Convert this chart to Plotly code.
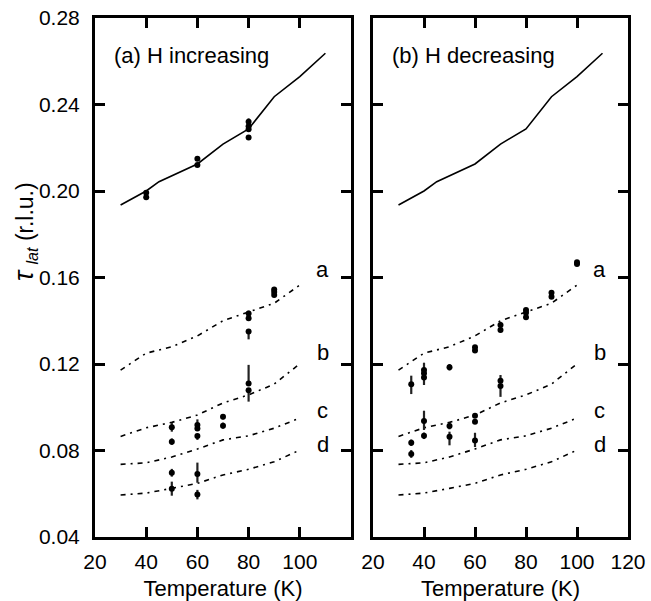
import plotly.graph_objects as go

# ---------------- data ----------------
# model curves (shared by both panels)
line_T = [30, 40, 45, 60, 70, 80, 90, 100, 110]
line_solid = [0.1935, 0.2000, 0.2043, 0.2125, 0.2217, 0.2287, 0.2436, 0.2529, 0.2637]

curve_T = [30, 40, 50, 60, 70, 80, 90, 100]
curve_a = [0.1172, 0.1250, 0.1280, 0.1330, 0.1400, 0.1442, 0.1481, 0.1565]
curve_b = [0.0865, 0.0905, 0.0930, 0.0964, 0.1020, 0.1057, 0.1107, 0.1201]
curve_c = [0.0736, 0.0743, 0.0770, 0.0807, 0.0849, 0.0868, 0.0903, 0.0950]
curve_d = [0.0594, 0.0603, 0.0625, 0.0648, 0.0687, 0.0713, 0.0748, 0.0802]
curve_labels = ["a", "b", "c", "d"]
label_y = [0.1635, 0.1251, 0.0987, 0.0826]

# panel (a) H increasing: measured points
a_T = [40, 40, 60, 60, 80, 80, 80, 80,
       80, 80, 80, 90, 90, 90,
       80, 80, 70, 70, 60, 60, 60, 50, 50,
       50, 50, 60, 60]
a_tau = [0.1992, 0.1971, 0.2149, 0.2120, 0.2320, 0.2300, 0.2285, 0.2247,
         0.1434, 0.1411, 0.1350, 0.1545, 0.1533, 0.1519,
         0.1110, 0.1079, 0.0956, 0.0915, 0.0918, 0.0902, 0.0867, 0.0907, 0.0841,
         0.0697, 0.0623, 0.0691, 0.0596]
a_up = [0.0008, 0.0008, 0.0008, 0.0008, 0.0016, 0.0008, 0.0008, 0.0008,
        0.0012, 0.0035, 0.0010, 0.0010, 0.0008, 0.0008,
        0.0086, 0.0010, 0.0012, 0.0014, 0.0026, 0.0010, 0.0010, 0.0020, 0.0015,
        0.0018, 0.0033, 0.0053, 0.0022]
a_dn = [0.0008, 0.0008, 0.0008, 0.0008, 0.0008, 0.0008, 0.0008, 0.0008,
        0.0010, 0.0010, 0.0036, 0.0008, 0.0008, 0.0010,
        0.0010, 0.0053, 0.0012, 0.0014, 0.0010, 0.0010, 0.0018, 0.0020, 0.0015,
        0.0018, 0.0032, 0.0040, 0.0022]

# panel (b) H decreasing: measured points
b_T = [35, 35, 35, 40, 40, 40, 40, 40,
       50, 50, 50, 60, 60, 60, 60, 60,
       70, 70, 70, 70, 80, 80, 80, 90, 90, 100, 100]
b_tau = [0.1106, 0.0836, 0.0784, 0.1172, 0.1157, 0.1137, 0.0936, 0.0868,
         0.1185, 0.0913, 0.0864, 0.1277, 0.1262, 0.0961, 0.0933, 0.0846,
         0.1380, 0.1357, 0.1123, 0.1098, 0.1450, 0.1437, 0.1416, 0.1530, 0.1511, 0.1670, 0.1663]
b_up = [0.0040, 0.0015, 0.0018, 0.0034, 0.0010, 0.0010, 0.0048, 0.0015,
        0.0015, 0.0015, 0.0023, 0.0010, 0.0010, 0.0010, 0.0010, 0.0036,
        0.0015, 0.0010, 0.0026, 0.0010, 0.0008, 0.0008, 0.0008, 0.0010, 0.0010, 0.0010, 0.0010]
b_dn = [0.0045, 0.0015, 0.0018, 0.0010, 0.0010, 0.0034, 0.0041, 0.0015,
        0.0015, 0.0015, 0.0040, 0.0010, 0.0010, 0.0010, 0.0010, 0.0030,
        0.0010, 0.0010, 0.0010, 0.0050, 0.0008, 0.0008, 0.0008, 0.0010, 0.0010, 0.0010, 0.0010]

left_ticks = [20, 40, 60, 80, 100]
right_ticks = [20, 40, 60, 80, 100, 120]
y_ticks = [0.04, 0.08, 0.12, 0.16, 0.20, 0.24, 0.28]
panel_titles = ["(a) H increasing", "(b) H decreasing"]

# ---------------- figure ----------------
FONT = "Liberation Sans, Arial, Helvetica, sans-serif"
fig = go.Figure()

panels = [("x", "y", a_T, a_tau, a_up, a_dn), ("x2", "y2", b_T, b_tau, b_up, b_dn)]
for xa, ya, T, tau, up, dn in panels:
    fig.add_trace(go.Scatter(x=line_T, y=line_solid, mode="lines", xaxis=xa, yaxis=ya,
                             line=dict(color="black", width=1.6), showlegend=False))
    for cv in [curve_a, curve_b, curve_c, curve_d]:
        fig.add_trace(go.Scatter(x=curve_T, y=cv, mode="lines", xaxis=xa, yaxis=ya,
                                 line=dict(color="black", width=1.6, dash="5px,5px,2px,5px"),
                                 showlegend=False))
    fig.add_trace(go.Scatter(x=T, y=tau, mode="markers", xaxis=xa, yaxis=ya,
                             marker=dict(color="black", size=6),
                             error_y=dict(type="data", symmetric=False, array=up, arrayminus=dn,
                                          color="#222", thickness=2.2, width=0),
                             showlegend=False))

axis_common = dict(range=[20, 120], showline=True, linecolor="black", linewidth=3,
                   mirror="ticks", ticks="inside", ticklen=10, tickwidth=3, tickcolor="black",
                   showgrid=False, zeroline=False, automargin=False,
                   tickfont=dict(family=FONT, size=21, color="black"))
yaxis_common = dict(range=[0.04, 0.28], showline=True, linecolor="black", linewidth=3,
                    mirror="ticks", ticks="inside", ticklen=10, tickwidth=3, tickcolor="black",
                    showgrid=False, zeroline=False, tickvals=y_ticks, automargin=False,
                    tickfont=dict(family=FONT, size=21, color="black"))

ydom = [1 - 537 / 601, 1 - 18 / 601]
fig.update_layout(
    width=651, height=601, margin=dict(l=0, r=0, t=0, b=0, autoexpand=False),
    plot_bgcolor="white", paper_bgcolor="white",
    xaxis=dict(axis_common, domain=[95 / 651, 351 / 651], tickvals=left_ticks,
               ticklabelstandoff=4,
               title=dict(text="Temperature (K)", font=dict(family=FONT, size=22, color="black"),
                          standoff=12)),
    xaxis2=dict(axis_common, domain=[373 / 651, 628 / 651], tickvals=right_ticks, anchor="y2",
                ticklabelstandoff=4,
                title=dict(text="Temperature (K)", font=dict(family=FONT, size=22, color="black"),
                           standoff=12)),
    yaxis=dict(yaxis_common, domain=ydom, tickformat=".2f", ticklabelstandoff=8),
    yaxis2=dict(yaxis_common, domain=ydom, anchor="x2", showticklabels=False),
)

annotations = []
for i, (xr, yr) in enumerate([("x", "y"), ("x2", "y2")]):
    annotations.append(dict(text=panel_titles[i], xref=xr + " domain", yref=yr + " domain",
                            x=0.068, y=0.927, xanchor="left", yanchor="middle", showarrow=False,
                            font=dict(family=FONT, size=22, color="black")))
    for lab, ly in zip(curve_labels, label_y):
        annotations.append(dict(text=lab, xref=xr, yref=yr, x=109, y=ly, xanchor="center",
                                yanchor="middle", showarrow=False,
                                font=dict(family=FONT, size=22, color="black")))
annotations.append(dict(text="<i><span style='font-size:27px'>τ</span></i> <sub><i>lat</i></sub> (r.l.u.)",
                        xref="paper", yref="paper",
                        x=25 / 651, y=1 - 232 / 601, xanchor="center", yanchor="middle",
                        textangle=-90, showarrow=False,
                        font=dict(family=FONT, size=23, color="black")))
fig.update_layout(annotations=annotations)

fig.write_html("out.html")
